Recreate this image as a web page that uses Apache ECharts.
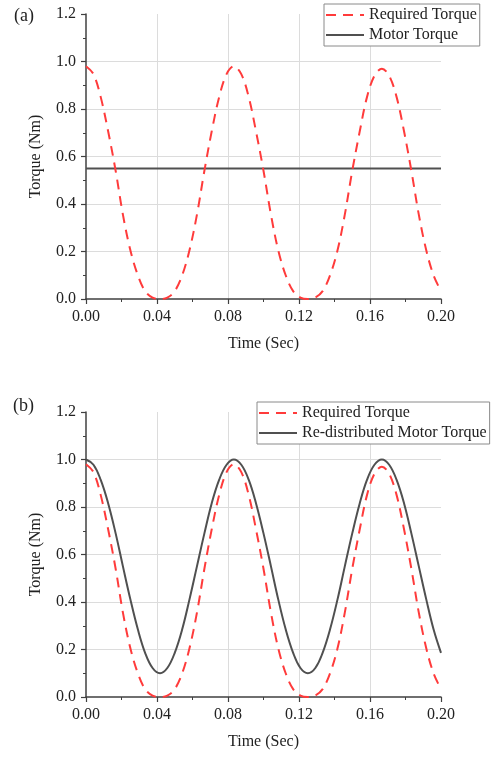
<!DOCTYPE html>
<html>
<head>
<meta charset="utf-8">
<script src="https://cdn.jsdelivr.net/npm/echarts@6/dist/echarts.min.js"></script>
<style>
html,body{margin:0;padding:0;background:#fff;}
#chart{width:497px;height:757px;}
</style>
</head>
<body>
<div id="chart"></div>
<script>
// Time (Sec)
var times = [0,0.0042,0.0083,0.0125,0.0167,0.0208,0.025,0.0292,0.0333,0.0375,
             0.0417,0.0458,0.05,0.0542,0.0583,0.0625,0.0667,0.0708,0.075,0.0792,
             0.0833,0.0875,0.0917,0.0958,0.1,0.1042,0.1083,0.1125,0.1167,0.1208,
             0.125,0.1292,0.1333,0.1375,0.1417,0.1458,0.15,0.1542,0.1583,0.1625,
             0.1667,0.1708,0.175,0.1792,0.1833,0.1875,0.1917,0.1958,0.2];
// Required Torque (Nm)
var requiredTorque = [0.98,0.947,0.85,0.705,0.54,0.355,0.205,0.10,0.033,0.006,
                      0,0.006,0.033,0.10,0.205,0.355,0.54,0.705,0.85,0.947,
                      0.98,0.947,0.85,0.705,0.54,0.355,0.205,0.10,0.033,0.006,
                      0,0.006,0.033,0.10,0.205,0.355,0.54,0.705,0.85,0.94,
                      0.97,0.94,0.85,0.705,0.54,0.355,0.205,0.10,0.033];
// Motor Torque (a), constant
var motorTimes = [0, 0.2];
var motorTorque = [0.55, 0.55];
// Re-distributed Motor Torque (b)
var redistributedTorque = [1.0,0.978,0.914,0.815,0.689,0.55,0.411,0.285,0.186,0.122,
                           0.10,0.122,0.186,0.285,0.411,0.55,0.689,0.815,0.914,0.978,
                           1.0,0.978,0.914,0.815,0.689,0.55,0.411,0.285,0.186,0.122,
                           0.10,0.122,0.186,0.285,0.411,0.55,0.689,0.815,0.914,0.978,
                           1.0,0.978,0.914,0.815,0.689,0.55,0.411,0.285,0.186];
var xTicks = [0, 0.04, 0.08, 0.12, 0.16, 0.20];
var yTicks = [0, 0.2, 0.4, 0.6, 0.8, 1.0, 1.2];

function pairs(xs, ys){ return xs.map(function(x,i){ return [x, ys[i]]; }); }

var FONT = 'Liberation Serif';
var RED = '#ff3b3b';
var GREY = '#505050';
var AXIS = '#404040';

function xAxisCfg(gi){
  return {
    type:'value', gridIndex:gi, min:xTicks[0], max:xTicks[xTicks.length-1], interval:0.04,
    name:'Time (Sec)', nameLocation:'middle', nameGap:37,
    nameTextStyle:{fontFamily:FONT, fontSize:16, color:'#222'},
    axisLine:{show:true, onZero:false, lineStyle:{color:AXIS, width:1.5}},
    axisTick:{show:true, inside:false, length:5, lineStyle:{color:AXIS, width:1.2}},
    minorTick:{show:true, splitNumber:2, length:3, lineStyle:{color:AXIS, width:1}},
    axisLabel:{fontFamily:FONT, fontSize:16, color:'#222', margin:10, formatter:function(v){return v.toFixed(2);}},
    splitLine:{show:true, showMinLine:false, showMaxLine:false, lineStyle:{color:'#dcdcdc', width:1}}
  };
}
function yAxisCfg(gi){
  return {
    type:'value', gridIndex:gi, min:yTicks[0], max:yTicks[yTicks.length-1], interval:0.2,
    name:'Torque (Nm)', nameLocation:'middle', nameGap:42,
    nameTextStyle:{fontFamily:FONT, fontSize:16, color:'#222'},
    axisLine:{show:true, onZero:false, lineStyle:{color:AXIS, width:1.5}},
    axisTick:{show:true, inside:false, length:5, lineStyle:{color:AXIS, width:1.2}},
    minorTick:{show:true, splitNumber:2, length:3, lineStyle:{color:AXIS, width:1}},
    axisLabel:{fontFamily:FONT, fontSize:16, color:'#222', margin:10, formatter:function(v){return v.toFixed(1);}},
    splitLine:{show:true, showMinLine:false, showMaxLine:false, lineStyle:{color:'#dcdcdc', width:1}}
  };
}
function legendCfg(left, top, names){
  return {
    orient:'vertical', left:left, top:top, data:names,
    backgroundColor:'#fff', borderColor:'#8a8a8a', borderWidth:1, borderRadius:0,
    padding:[3,3,3,1], itemWidth:38, itemHeight:16, itemGap:4,
    itemStyle:{opacity:0},
    textStyle:{fontFamily:FONT, fontSize:16, color:'#222', lineHeight:16},
    selectedMode:false
  };
}

var chart = echarts.init(document.getElementById('chart'), null, {renderer:'canvas'});
chart.setOption({
  animation:false,
  backgroundColor:'#fff',
  title:[
    {text:'(a)', left:14, top:7, padding:0, textStyle:{fontFamily:FONT, fontSize:18, fontWeight:'normal', color:'#222'}},
    {text:'(b)', left:13, top:397, padding:0, textStyle:{fontFamily:FONT, fontSize:18, fontWeight:'normal', color:'#222'}}
  ],
  grid:[
    {left:86, top:14, width:355, height:285},
    {left:86, top:412, width:355, height:285}
  ],
  xAxis:[xAxisCfg(0), xAxisCfg(1)],
  yAxis:[yAxisCfg(0), yAxisCfg(1)],
  legend:[
    legendCfg(324, 4, ['Required Torque','Motor Torque']),
    legendCfg(257, 402, ['Required Torque','Re-distributed Motor Torque'])
  ],
  series:[
    {name:'Required Torque', type:'line', xAxisIndex:0, yAxisIndex:0, data:pairs(times, requiredTorque),
     symbol:'none', smooth:0.35, lineStyle:{color:RED, width:2, type:[10,7]}, itemStyle:{color:RED}, z:3},
    {name:'Motor Torque', type:'line', xAxisIndex:0, yAxisIndex:0, data:pairs(motorTimes, motorTorque),
     symbol:'none', lineStyle:{color:GREY, width:2}, itemStyle:{color:GREY}, z:2},
    {name:'Required Torque', type:'line', xAxisIndex:1, yAxisIndex:1, data:pairs(times, requiredTorque),
     symbol:'none', smooth:0.35, lineStyle:{color:RED, width:2, type:[10,7]}, itemStyle:{color:RED}, z:2},
    {name:'Re-distributed Motor Torque', type:'line', xAxisIndex:1, yAxisIndex:1, data:pairs(times, redistributedTorque),
     symbol:'none', smooth:0.4, lineStyle:{color:GREY, width:2}, itemStyle:{color:GREY}, z:3}
  ]
});
</script>
</body>
</html>
